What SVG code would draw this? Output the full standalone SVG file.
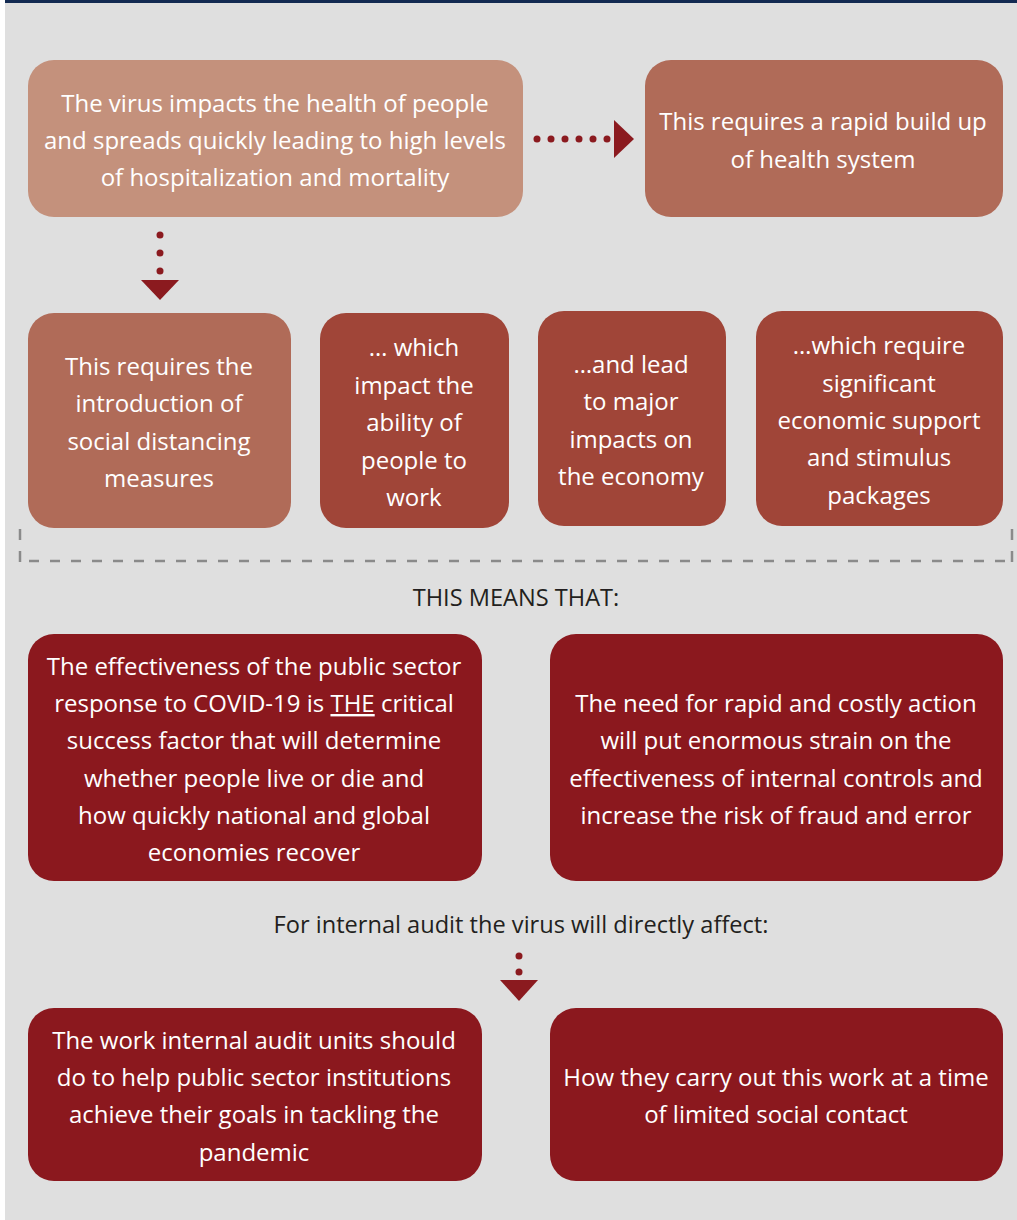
<svg xmlns="http://www.w3.org/2000/svg" width="1017" height="1220" viewBox="0 0 1017 1220">
<defs>
<style>
.t{font-family:"Open Sans","Noto Sans",sans-serif;font-size:24px;fill:#ffffff;text-anchor:middle}
.d{font-family:"Open Sans","Noto Sans",sans-serif;font-size:23.6px;fill:#231f20;text-anchor:middle}
.c1{fill:#c4917c}
.c2{fill:#b06b58}
.c3{fill:#a04538}
.c4{fill:#8b181e}
.ar{fill:#8b1a1f}
.dash{stroke:#8a8a8a;stroke-width:2.5;fill:none;stroke-dasharray:10 11}
.tick{stroke:#8a8a8a;stroke-width:2.5;fill:none}
</style>
</defs>
<rect x="0" y="0" width="1017" height="1220" fill="#ffffff"/>
<rect x="5" y="0" width="1012" height="1220" fill="#dfdfdf"/>
<rect x="5" y="0" width="1012" height="3" fill="#132a52"/>

<g id="connectors">
<g class="ar">
<circle cx="537" cy="139" r="3.5"/><circle cx="551" cy="139" r="3.5"/><circle cx="565" cy="139" r="3.5"/><circle cx="579" cy="139" r="3.5"/><circle cx="593" cy="139" r="3.5"/><circle cx="607" cy="139" r="3.5"/>
<polygon points="614,120 634,139 614,158"/>
<circle cx="160" cy="235" r="3.5"/><circle cx="160" cy="253" r="3.5"/><circle cx="160" cy="271" r="3.5"/>
<polygon points="141,280 179,280 160,300"/>
<circle cx="519" cy="956" r="3.5"/><circle cx="519" cy="972" r="3.5"/>
<polygon points="500,980 538,980 519,1001"/>
</g>
<g id="divider">
<line class="tick" x1="20" y1="529" x2="20" y2="540"/>
<line class="tick" x1="20" y1="551" x2="20" y2="562"/>
<line class="dash" x1="29" y1="561" x2="1005" y2="561"/>
<line class="tick" x1="1012" y1="529" x2="1012" y2="540"/>
<line class="tick" x1="1012" y1="551" x2="1012" y2="562"/>
</g>
</g>

<g id="n1"><rect class="c1" x="28" y="60" width="495" height="157" rx="26"/>
<text class="t" x="275" y="112">The virus impacts the health of people</text>
<text class="t" x="275" y="149">and spreads quickly leading to high levels</text>
<text class="t" x="275" y="186">of hospitalization and mortality</text></g>

<g id="n2"><rect class="c2" x="645" y="60" width="358" height="157" rx="26"/>
<text class="t" x="823" y="130">This requires a rapid build up</text>
<text class="t" x="823" y="168">of health system</text></g>

<g id="n3"><rect class="c2" x="28" y="313" width="263" height="215" rx="26"/>
<text class="t" x="159" y="375">This requires the</text>
<text class="t" x="159" y="412">introduction of</text>
<text class="t" x="159" y="450">social distancing</text>
<text class="t" x="159" y="487">measures</text></g>

<g id="n4"><rect class="c3" x="320" y="313" width="189" height="215" rx="26"/>
<text class="t" x="414" y="356">… which</text>
<text class="t" x="414" y="394">impact the</text>
<text class="t" x="414" y="431">ability of</text>
<text class="t" x="414" y="469">people to</text>
<text class="t" x="414" y="506">work</text></g>

<g id="n5"><rect class="c3" x="538" y="311" width="188" height="215" rx="26"/>
<text class="t" x="631" y="373">…and lead</text>
<text class="t" x="631" y="410">to major</text>
<text class="t" x="631" y="448">impacts on</text>
<text class="t" x="631" y="485">the economy</text></g>

<g id="n6"><rect class="c3" x="756" y="311" width="247" height="215" rx="26"/>
<text class="t" x="879" y="354">…which require</text>
<text class="t" x="879" y="392">significant</text>
<text class="t" x="879" y="429">economic support</text>
<text class="t" x="879" y="466">and stimulus</text>
<text class="t" x="879" y="504">packages</text></g>

<text class="d" x="516" y="606">THIS MEANS THAT:</text>

<g id="n7"><rect class="c4" x="28" y="634" width="454" height="247" rx="26"/>
<text class="t" x="254" y="675">The effectiveness of the public sector</text>
<text class="t" x="254" y="712">response to COVID-19 is <tspan text-decoration="underline">THE</tspan> critical</text>
<text class="t" x="254" y="749">success factor that will determine</text>
<text class="t" x="254" y="787">whether people live or die and</text>
<text class="t" x="254" y="824">how quickly national and global</text>
<text class="t" x="254" y="861">economies recover</text></g>

<g id="n8"><rect class="c4" x="550" y="634" width="453" height="247" rx="26"/>
<text class="t" x="776" y="712">The need for rapid and costly action</text>
<text class="t" x="776" y="749">will put enormous strain on the</text>
<text class="t" x="776" y="787">effectiveness of internal controls and</text>
<text class="t" x="776" y="824">increase the risk of fraud and error</text></g>

<text class="d" x="521" y="933">For internal audit the virus will directly affect:</text>

<g id="n9"><rect class="c4" x="28" y="1008" width="454" height="173" rx="26"/>
<text class="t" x="254" y="1049">The work internal audit units should</text>
<text class="t" x="254" y="1086">do to help public sector institutions</text>
<text class="t" x="254" y="1123">achieve their goals in tackling the</text>
<text class="t" x="254" y="1161">pandemic</text></g>

<g id="n10"><rect class="c4" x="550" y="1008" width="453" height="173" rx="26"/>
<text class="t" x="776" y="1086">How they carry out this work at a time</text>
<text class="t" x="776" y="1123">of limited social contact</text></g>
</svg>
